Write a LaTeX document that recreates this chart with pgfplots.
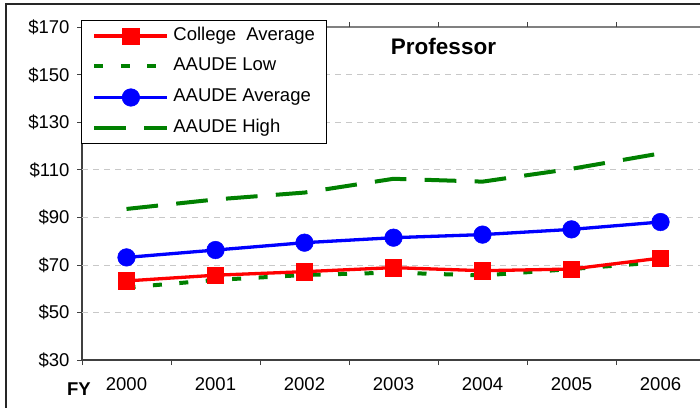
\documentclass[border=0pt]{standalone}
\usepackage{pgfplots}
\pgfplotsset{compat=1.18}
\usepackage{fontspec}
\setmainfont{Liberation Sans}
\setsansfont{Liberation Sans}
\definecolor{xlgreen}{RGB}{0,128,0}
\definecolor{gridgray}{RGB}{200,200,200}
\newcommand{\tfont}{\fontsize{18.5}{22}\selectfont}
\pgfplotsset{
 colavg/.style={color=red, line width=3.3pt, mark=square*, mark size=8.2pt, mark options={solid, line width=0.5pt}},
 lowst/.style={color=xlgreen, line width=4pt, dash pattern=on 9pt off 17.5pt},
 avgst/.style={color=blue, line width=3.3pt, mark=*, mark size=8.8pt, mark options={solid, line width=0.5pt}},
 highst/.style={color=xlgreen, line width=4pt, dash pattern=on 31.7pt off 18.3pt},
}
\begin{document}
\begin{tikzpicture}[x=1pt,y=1pt]
\useasboundingbox (0,0) rectangle (700,407);
\clip (0,0) rectangle (700,407);
\fill[white] (0,0) rectangle (700,407);
% chart area frame
\draw[line width=1.5pt, black!85] (6,-20) -- (6,403) -- (720,403);
% plot area lines
\draw[line width=2pt, black!50] (82,379.5) -- (705,379.5) -- (705,47);
\draw[line width=2pt, black!75] (82,379.5) -- (82,47) -- (705,47);
\begin{axis}[
 at={(82pt,47pt)}, anchor=south west,
 scale only axis, width=623pt, height=332.5pt,
 xmin=0, xmax=7, ymin=30, ymax=170,
 clip=false,
 axis line style={draw=none},
 xtick={0,1,2,3,4,5,6,7},
 xticklabels={2000,2001,2002,2003,2004,2005,2006},
 x tick label as interval,
 ytick={30,50,70,90,110,130,150,170},
 yticklabels={\$30,\$50,\$70,\$90,\$110,\$130,\$150,\$170},
 extra y ticks={50,70,90,110,130,150},
 extra y tick labels={},
 extra y tick style={grid=major, major tick length=0pt},
 major grid style={dash pattern=on 6pt off 5pt, color=gridgray, line width=1pt},
 tick align=outside, major tick length=5pt, minor tick length=5pt,
 tick style={color=black!75, line width=1pt},
 ticklabel style={font=\tfont},
 xticklabel style={yshift=-9pt},
 yticklabel style={xshift=-4pt},
 legend style={at={(axis description cs:-0.0016,1.0226)}, anchor=north west,
   draw=black, line width=0.8pt, fill=white, font=\tfont,
   inner xsep=11pt, inner ysep=7.5pt, row sep=14.7pt, column sep=4pt,
   nodes={inner sep=0pt, text height=12pt, text depth=3pt}},
 legend cell align=left,
 legend image code/.code={\draw[mark repeat=2,mark phase=2,#1] plot coordinates {(0pt,0pt) (36.5pt,0pt) (73pt,0pt)};},
]
\addlegendimage{colavg}
\addlegendentry{College\ \ Average}
\addlegendimage{lowst}
\addlegendentry{AAUDE Low}
\addlegendimage{avgst}
\addlegendentry{AAUDE Average}
\addlegendimage{highst}
\addlegendentry{AAUDE High}
\addplot[highst, forget plot] coordinates {(0.5,93.6) (1.5,97.6) (2.5,100.5) (3.5,106.3) (4.5,105.1) (5.5,110.5) (6.5,117.0)};
\addplot[lowst, forget plot] coordinates {(0.5,60.5) (1.5,63.7) (2.5,65.8) (3.5,66.8) (4.5,65.6) (5.5,68.3) (6.5,71.2)};
\addplot[avgst, forget plot] coordinates {(0.5,73.2) (1.5,76.3) (2.5,79.4) (3.5,81.5) (4.5,82.8) (5.5,85.0) (6.5,88.1)};
\addplot[colavg, forget plot] coordinates {(0.5,63.3) (1.5,65.7) (2.5,67.2) (3.5,68.9) (4.5,67.6) (5.5,68.3) (6.5,72.9)};
\end{axis}
\node[anchor=base, font=\fontsize{18.5}{22}\selectfont\bfseries] at (79,12) {FY};
\node[anchor=base, font=\fontsize{22.5}{26}\selectfont\bfseries] at (443.5,352) {Professor};
\end{tikzpicture}
\end{document}
